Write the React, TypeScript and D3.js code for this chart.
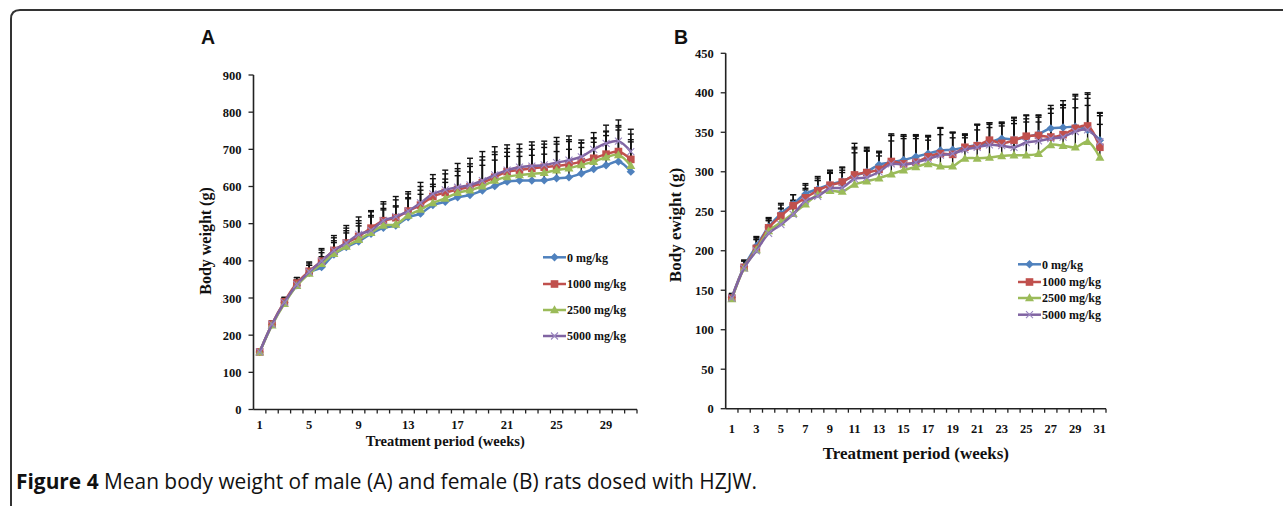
import React from 'react'
import * as d3 from 'd3'

const weeks = [1, 2, 3, 4, 5, 6, 7, 8, 9, 10, 11, 12, 13, 14, 15, 16, 17, 18, 19, 20, 21, 22, 23, 24, 25, 26, 27, 28, 29, 30, 31]
const doses = ['0 mg/kg', '1000 mg/kg', '2500 mg/kg', '5000 mg/kg']
const colors = ['#4F81BD', '#C0504D', '#9BBB59', '#8064A2']
const shapes = ['diamond', 'square', 'triangle', 'cross']

const ticksA = [0, 100, 200, 300, 400, 500, 600, 700, 800, 900]
const ticksB = [0, 50, 100, 150, 200, 250, 300, 350, 400, 450]
const weekLabelsA = [1, 5, 9, 13, 17, 21, 25, 29]
const weekLabelsB = [1, 3, 5, 7, 9, 11, 13, 15, 17, 19, 21, 23, 25, 27, 29, 31]

// male (A), mean body weight per group
const male0 = [155, 229, 288, 334, 368, 383, 417, 437, 452, 473, 489, 495, 517, 527, 550, 559, 571, 577, 589, 601, 613, 616, 616, 617, 622, 625, 635, 647, 657, 667, 640]
const male1000 = [155, 230, 290, 340, 372, 399, 428, 448, 466, 488, 508, 516, 534, 550, 573, 584, 592, 599, 610, 625, 640, 644, 649, 652, 655, 660, 667, 676, 687, 694, 673]
const male2500 = [154, 227, 285, 333, 366, 392, 419, 439, 457, 476, 495, 498, 522, 538, 556, 568, 583, 590, 601, 616, 626, 631, 634, 637, 644, 649, 658, 667, 679, 685, 656]
const male5000 = [155, 229, 288, 336, 370, 399, 428, 448, 471, 482, 508, 519, 534, 556, 580, 591, 598, 604, 616, 631, 644, 652, 655, 658, 664, 671, 680, 700, 716, 722, 694]
// male SD
const maleSd0 = [3, 6, 10, 14, 20, 28, 32, 38, 42, 45, 48, 50, 50, 52, 50, 52, 58, 62, 68, 70, 68, 65, 68, 70, 72, 75, 70, 72, 80, 85, 80]
const maleSd1000 = [3, 7, 11, 15, 22, 30, 34, 40, 42, 44, 45, 48, 46, 50, 48, 50, 56, 62, 70, 68, 62, 58, 62, 62, 66, 66, 50, 55, 62, 70, 68]
const maleSd2500 = [3, 6, 10, 15, 22, 30, 35, 42, 44, 46, 46, 50, 48, 52, 50, 52, 58, 64, 70, 70, 66, 62, 66, 68, 70, 72, 60, 62, 68, 75, 70]
const maleSd5000 = [3, 9, 14, 19, 27, 34, 40, 47, 47, 53, 51, 54, 52, 55, 52, 53, 64, 72, 78, 76, 68, 62, 65, 64, 68, 65, 45, 45, 49, 57, 60]

// female (B), mean body weight per group
const female0 = [141, 180, 206, 230, 247, 259, 272, 278, 284, 288, 295, 300, 309, 312, 315, 319, 323, 327, 328, 331, 334, 337, 342, 341, 344, 348, 355, 356, 357, 353, 340]
const female1000 = [140, 179, 203, 229, 244, 257, 267, 276, 283, 287, 296, 299, 303, 313, 310, 312, 319, 323, 322, 331, 333, 340, 336, 340, 345, 346, 344, 347, 355, 358, 331]
const female2500 = [139, 178, 201, 225, 236, 247, 259, 271, 276, 275, 284, 288, 292, 297, 302, 306, 310, 307, 307, 317, 317, 318, 320, 321, 321, 323, 334, 333, 331, 338, 318]
const female5000 = [140, 178, 200, 222, 233, 246, 263, 269, 279, 280, 291, 293, 300, 310, 309, 312, 316, 321, 323, 328, 331, 334, 333, 331, 337, 339, 342, 344, 351, 353, 338]
// female SD
const femaleSd0 = [5, 8, 12, 12, 13, 12, 13, 16, 18, 18, 36, 31, 17, 34, 32, 28, 23, 29, 22, 17, 26, 25, 21, 28, 28, 24, 29, 34, 35, 40, 35]
const femaleSd1000 = [5, 9, 14, 12, 14, 14, 16, 16, 18, 18, 40, 30, 22, 35, 35, 33, 26, 32, 28, 16, 27, 22, 26, 28, 26, 25, 36, 38, 43, 42, 40]
const femaleSd2500 = [5, 9, 14, 14, 18, 16, 18, 18, 22, 24, 40, 38, 28, 42, 40, 36, 30, 40, 36, 26, 36, 38, 38, 40, 42, 40, 40, 48, 50, 46, 42]
const femaleSd5000 = [5, 9, 14, 16, 20, 18, 16, 20, 20, 22, 38, 34, 24, 36, 36, 34, 28, 34, 26, 18, 28, 26, 28, 34, 30, 30, 38, 40, 45, 45, 36]

const serif = '"Liberation Serif", "Times New Roman", serif'

function Marker({ shape, x, y, color }: { shape: string; x: number; y: number; color: string }) {
  if (shape === 'diamond') {
    return <path d={`M${x},${y - 4.2}L${x + 4.2},${y}L${x},${y + 4.2}L${x - 4.2},${y}Z`} fill={color} />
  }
  if (shape === 'square') {
    return <rect x={x - 3.8} y={y - 3.8} width={7.6} height={7.6} fill={color} />
  }
  if (shape === 'triangle') {
    return <path d={`M${x},${y - 4.7}L${x + 4.5},${y + 3.3}L${x - 4.5},${y + 3.3}Z`} fill={color} />
  }
  return (
    <path
      d={`M${x - 3.5},${y - 3.5}L${x + 3.5},${y + 3.5}M${x - 3.5},${y + 3.5}L${x + 3.5},${y - 3.5}`}
      stroke="#9a86c0" strokeWidth={1.1} fill="none"
    />
  )
}

type PanelProps = {
  means: number[][]
  sds: number[][]
  xRange: [number, number]
  yRange: [number, number]
  ticks: number[]
  weekLabels: number[]
  xLabelY: number
  xTitle: string
  xTitleY: number
  xTitleSize: number
  yTitle: string
  yTitleX: number
  yTitleY: number
  yTitleSize: number
  legendX: number
  legendY: number[]
}

function Panel(p: PanelProps) {
  const x = d3.scaleBand<number>().domain(weeks).range(p.xRange)
  const bw = x.bandwidth()
  const cx = (w: number) => (x(w) as number) + bw / 2
  const y = d3.scaleLinear().domain([0, p.ticks[p.ticks.length - 1]]).range(p.yRange)
  const line = d3.line<number>()
    .x((_, i) => cx(weeks[i]))
    .y((v) => y(v))
    .curve(d3.curveCatmullRom.alpha(0.5))
  const [x0, x1] = p.xRange
  const y0 = p.yRange[0]

  return (
    <g>
      {/* y axis */}
      <line x1={x0} x2={x0} y1={p.yRange[1]} y2={y0} stroke="#222" strokeWidth={1.6} />
      {p.ticks.map((t) => (
        <g key={t}>
          <line x1={x0 - 5} x2={x0} y1={y(t)} y2={y(t)} stroke="#222" strokeWidth={1.3} />
          <text x={x0 - 12} y={y(t) + 4.5} textAnchor="end" fontFamily={serif} fontWeight="bold" fontSize={12.5} fill="#111">{t}</text>
        </g>
      ))}
      {/* x axis */}
      <line x1={x0} x2={x1} y1={y0} y2={y0} stroke="#222" strokeWidth={1.6} />
      {weeks.map((w) => (
        <line key={w} x1={(x(w) as number) + bw} x2={(x(w) as number) + bw} y1={y0} y2={y0 + 4} stroke="#222" strokeWidth={1.3} />
      ))}
      {p.weekLabels.map((w) => (
        <text key={w} x={cx(w)} y={p.xLabelY} textAnchor="middle" fontFamily={serif} fontWeight="bold" fontSize={12.5} fill="#111">{w}</text>
      ))}
      <text x={(x0 + x1) / 2} y={p.xTitleY} textAnchor="middle" fontFamily={serif} fontWeight="bold" fontSize={p.xTitleSize} fill="#111">{p.xTitle}</text>
      <text transform={`translate(${p.yTitleX},${p.yTitleY}) rotate(-90)`} textAnchor="middle" fontFamily={serif} fontWeight="bold" fontSize={p.yTitleSize} fill="#111">{p.yTitle}</text>

      {/* error bars */}
      {p.means.map((m, s) => (
        <g key={`e${s}`}>
          {m.map((v, i) => {
            const xx = cx(weeks[i])
            const top = y(v + p.sds[s][i])
            return (
              <g key={i}>
                <line x1={xx} x2={xx} y1={y(v)} y2={top} stroke="#111" strokeWidth={1.4} />
                <line x1={xx - 3} x2={xx + 3} y1={top} y2={top} stroke="#111" strokeWidth={1.4} />
              </g>
            )
          })}
        </g>
      ))}

      {/* series */}
      {p.means.map((m, s) => (
        <g key={`s${s}`}>
          <path d={line(m) as string} fill="none" stroke={colors[s]} strokeWidth={2.5} />
          {m.map((v, i) => (
            <Marker key={i} shape={shapes[s]} x={cx(weeks[i])} y={y(v)} color={colors[s]} />
          ))}
        </g>
      ))}

      {/* legend */}
      {doses.map((d, s) => (
        <g key={d}>
          <line x1={p.legendX} x2={p.legendX + 23} y1={p.legendY[s]} y2={p.legendY[s]} stroke={colors[s]} strokeWidth={2.5} />
          <Marker shape={shapes[s]} x={p.legendX + 11.5} y={p.legendY[s]} color={colors[s]} />
          <text x={p.legendX + 24} y={p.legendY[s] + 4.3} fontFamily={serif} fontWeight="bold" fontSize={12} fill="#111">{d}</text>
        </g>
      ))}
    </g>
  )
}

export default function App() {
  return (
    <svg width={1283} height={506} style={{ position: 'absolute', left: 0, top: 0, background: '#fff' }}>
      <rect width={1283} height={506} fill="#fff" />
      <path d="M11,510L11,19Q11,10 20,10L1290,10" fill="none" stroke="#333" strokeWidth={2} />

      <text x={201} y={44} fontFamily='"Liberation Sans", Arial, sans-serif' fontWeight="bold" fontSize={19.5} fill="#111">A</text>
      <text x={674} y={44} fontFamily='"Liberation Sans", Arial, sans-serif' fontWeight="bold" fontSize={19.5} fill="#111">B</text>

      <Panel
        means={[male0, male1000, male2500, male5000]}
        sds={[maleSd0, maleSd1000, maleSd2500, maleSd5000]}
        xRange={[253.5, 637]}
        yRange={[409.5, 75]}
        ticks={ticksA}
        weekLabels={weekLabelsA}
        xLabelY={428.5}
        xTitle="Treatment period (weeks)"
        xTitleY={446}
        xTitleSize={14.5}
        yTitle="Body weight (g)"
        yTitleX={211}
        yTitleY={241}
        yTitleSize={16}
        legendX={543}
        legendY={[257.3, 284, 310, 336]}
      />
      <Panel
        means={[female0, female1000, female2500, female5000]}
        sds={[femaleSd0, femaleSd1000, femaleSd2500, femaleSd5000]}
        xRange={[725.7, 1106]}
        yRange={[408.7, 53.3]}
        ticks={ticksB}
        weekLabels={weekLabelsB}
        xLabelY={433}
        xTitle="Treatment period (weeks)"
        xTitleY={459}
        xTitleSize={17}
        yTitle="Body ewight (g)"
        yTitleX={681}
        yTitleY={225}
        yTitleSize={17}
        legendX={1018}
        legendY={[264.3, 282, 298, 314.7]}
      />

      <text x={16} y={489} fontFamily='"Open Sans", "Noto Sans", sans-serif' fontSize={20.9} fill="#111">
        <tspan fontWeight="bold">Figure 4</tspan>
        <tspan> Mean body weight of male (A) and female (B) rats dosed with HZJW.</tspan>
      </text>
    </svg>
  )
}
